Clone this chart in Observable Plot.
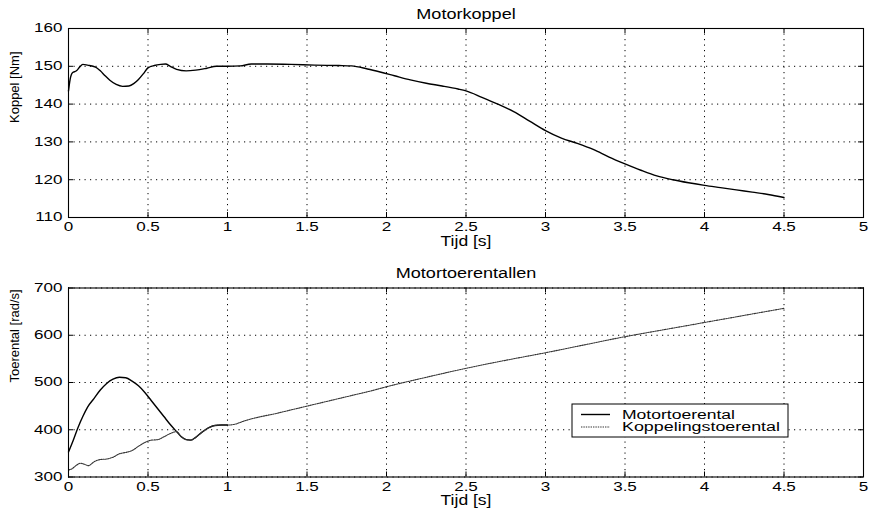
<!DOCTYPE html>
<html><head><meta charset="utf-8">
<script src="https://cdn.jsdelivr.net/npm/d3@7"></script>
<script src="https://cdn.jsdelivr.net/npm/@observablehq/plot@0.6"></script>
<style>
html,body{margin:0;padding:0;background:#fff;}
#chart{width:878px;height:511px;position:relative;overflow:hidden;}
#chart svg{display:block;}
</style></head><body><div id="chart"></div>
<script>
// ---- tick labels ----
const timeTicks = [0, 0.5, 1, 1.5, 2, 2.5, 3, 3.5, 4, 4.5, 5];
const koppelTicks = [110, 120, 130, 140, 150, 160];
const speedTicks = [300, 400, 500, 600, 700];

// ---- Motorkoppel [Nm] ----
const koppelTime = [0, 0.01, 0.025, 0.05, 0.07, 0.09, 0.12, 0.17, 0.2, 0.23, 0.26, 0.3, 0.34, 0.38, 0.41, 0.44, 0.47, 0.5, 0.54, 0.58, 0.61, 0.64, 0.68, 0.74, 0.8, 0.87, 0.93, 1.0, 1.08, 1.15, 1.25, 1.4, 1.55, 1.7, 1.78, 1.88, 1.96, 2.05, 2.15, 2.25, 2.35, 2.45, 2.5, 2.6, 2.7, 2.8, 2.9, 3.0, 3.1, 3.2, 3.3, 3.4, 3.5, 3.6, 3.7, 3.8, 3.9, 4.0, 4.1, 4.2, 4.3, 4.4, 4.5];
const koppelValue = [143.5, 146.5, 148.3, 148.8, 149.8, 150.5, 150.3, 149.8, 148.8, 147.5, 146.3, 145.2, 144.7, 144.8, 145.4, 146.5, 148.0, 149.6, 150.2, 150.5, 150.6, 150.0, 149.2, 148.8, 149.0, 149.5, 150.0, 150.0, 150.1, 150.6, 150.6, 150.5, 150.3, 150.2, 150.1, 149.3, 148.5, 147.5, 146.4, 145.5, 144.8, 144.0, 143.5, 141.8, 140.0, 138.0, 135.5, 133.0, 131.0, 129.6, 128.0, 126.0, 124.2, 122.5, 121.0, 120.0, 119.2, 118.5, 117.9, 117.3, 116.7, 116.1, 115.3];

// ---- Motortoerental [rad/s] (solid part visible until the clutch locks) ----
const motorTime = [0, 0.03, 0.06, 0.09, 0.12, 0.16, 0.2, 0.24, 0.28, 0.32, 0.36, 0.4, 0.44, 0.48, 0.52, 0.56, 0.6, 0.64, 0.68, 0.71, 0.74, 0.77, 0.8, 0.84, 0.88, 0.92, 0.96, 1.0];
const motorSpeed = [353, 378, 405, 428, 448, 466, 484, 498, 507, 511, 510, 503, 493, 479, 462, 445, 428, 411, 396, 385, 379, 378, 384, 395, 404, 409, 410, 410];

// ---- Koppelingstoerental [rad/s] ----
const clutchTime = [0, 0.02, 0.05, 0.075, 0.1, 0.125, 0.16, 0.2, 0.24, 0.28, 0.32, 0.36, 0.4, 0.44, 0.48, 0.52, 0.56, 0.6, 0.64, 0.68, 0.71, 0.74, 0.77, 0.8, 0.84, 0.88, 0.92, 0.96, 1.0, 1.05, 1.1, 1.15, 1.2, 1.3, 1.4, 1.5, 1.6, 1.7, 1.8, 1.9, 2.0, 2.25, 2.5, 2.75, 3.0, 3.25, 3.5, 3.75, 4.0, 4.25, 4.5];
const clutchSpeed = [315, 317, 325, 329, 327, 324, 332, 337, 338, 342, 349, 352, 356, 365, 373, 378, 379, 385, 392, 396, 385, 379, 378, 384, 395, 404, 409, 410, 410, 412, 418, 423, 427, 434, 442, 450, 458, 466, 474, 482, 491, 511, 530, 547, 563, 580, 597, 612, 627, 642, 657];

const seriesNames = ["Motortoerental", "Koppelingstoerental"];
const titles = ["Motorkoppel", "Motortoerentallen"];
const xLabel = "Tijd [s]";
const yLabels = ["Koppel [Nm]", "Toerental [rad/s]"];

const toRows = (ts, vs) => ts.map((t, i) => ({t, v: vs[i]}));
const koppelRows = toRows(koppelTime, koppelValue);
const motorRows = toRows(motorTime, motorSpeed);
const clutchRows = toRows(clutchTime, clutchSpeed);

const W = 878, ML = 68, MR = 15;
const FONT = "'Liberation Sans', Arial, Helvetica, sans-serif";

function panel({height, marginTop, marginBottom, yDomain, yTicks, title, ylabel, lines}) {
  const fw = W - ML - MR, fh = height - marginTop - marginBottom, tl = 5;
  return Plot.plot({
    width: W, height, marginLeft: ML, marginRight: MR, marginTop, marginBottom,
    style: {fontFamily: FONT, fontSize: "12px", color: "#000", background: "#fff", overflow: "visible"},
    x: {domain: [0, 5]},
    y: {domain: yDomain},
    marks: [
      Plot.ruleX(timeTicks, {x: d => d, stroke: "#000", strokeWidth: 1, strokeDasharray: "1.2,4.3"}),
      Plot.ruleY(yTicks, {y: d => d, stroke: "#000", strokeWidth: 1, strokeDasharray: "1.2,4.3"}),
      Plot.ruleX(timeTicks, {x: d => d, stroke: "#000", insetTop: fh - tl}),
      Plot.ruleX(timeTicks, {x: d => d, stroke: "#000", insetBottom: fh - tl}),
      Plot.ruleY(yTicks, {y: d => d, stroke: "#000", insetRight: fw - tl}),
      Plot.ruleY(yTicks, {y: d => d, stroke: "#000", insetLeft: fw - tl}),
      ...lines,
      Plot.frame({stroke: "#000", strokeWidth: 1.1}),
      Plot.axisX({ticks: timeTicks, tickSize: 0, tickPadding: 5, tickFormat: d => String(d), label: null}),
      Plot.axisY({ticks: yTicks, tickSize: 0, tickPadding: 6, tickFormat: d => String(d), label: null}),
      Plot.text([title], {text: d => d, frameAnchor: "top", lineAnchor: "middle", dy: -14, fontSize: 14}),
      Plot.text([xLabel], {text: d => d, frameAnchor: "bottom", lineAnchor: "middle", dy: 24, fontSize: 14}),
      Plot.text([ylabel], {text: d => d, frameAnchor: "left", lineAnchor: "middle", dx: -54, rotate: -90, fontSize: 13})
    ]
  });
}

const topPanel = panel({
  height: 255, marginTop: 28, marginBottom: 38,
  yDomain: [110, 160], yTicks: koppelTicks, title: titles[0], ylabel: yLabels[0],
  lines: [Plot.line(koppelRows, {x: "t", y: "v", stroke: "#000", strokeWidth: 1.4, curve: "monotone-x"})]
});
const bottomPanel = panel({
  height: 256, marginTop: 32.5, marginBottom: 34.5,
  yDomain: [300, 700], yTicks: speedTicks, title: titles[1], ylabel: yLabels[1],
  lines: [
    Plot.line(motorRows, {x: "t", y: "v", stroke: "#000", strokeWidth: 1.4, curve: "monotone-x"}),
    Plot.line(clutchRows, {x: "t", y: "v", stroke: "#333", strokeWidth: 1.1, strokeDasharray: "1.4,1", curve: "monotone-x"})
  ]
});

const chartEl = document.getElementById("chart");
chartEl.appendChild(topPanel);
chartEl.appendChild(bottomPanel);

function stretchText(el, k) {
  const L = el.getComputedTextLength();
  el.setAttribute("textLength", (L * k).toFixed(1));
  el.setAttribute("lengthAdjust", "spacingAndGlyphs");
}
const tickLabelSet = new Set([...timeTicks, ...koppelTicks, ...speedTicks].map(String));
for (const svg of [topPanel, bottomPanel]) {
  svg.querySelectorAll("text").forEach(el => {
    const s = el.textContent;
    if (titles.includes(s)) stretchText(el, 1.29);
    else if (s === xLabel) stretchText(el, 1.25);
    else if (tickLabelSet.has(s)) stretchText(el, 1.42);
  });
}

// legend (inside the lower panel)
const lg = d3.select(bottomPanel).append("g").attr("aria-label", "legend").attr("text-anchor", "start");
lg.append("rect").attr("x", 572).attr("y", 149).attr("width", 216).attr("height", 33)
  .attr("fill", "#fff").attr("stroke", "#000").attr("stroke-width", 1);
const legendRows = [
  {name: seriesNames[0], dash: null, w: 1.4, len: 113, color: "#000"},
  {name: seriesNames[1], dash: "1.4,1", w: 1.1, len: 158, color: "#333"}
];
legendRows.forEach((r, i) => {
  const y = 159.5 + i * 12.5;
  lg.append("line").attr("x1", 581).attr("x2", 610).attr("y1", y).attr("y2", y)
    .attr("stroke", r.color).attr("stroke-width", r.w).attr("stroke-dasharray", r.dash);
  lg.append("text").attr("x", 622).attr("y", y + 4.3).attr("font-size", 12).attr("font-family", FONT)
    .attr("text-anchor", "start")
    .attr("textLength", r.len).attr("lengthAdjust", "spacingAndGlyphs").attr("fill", "#000").text(r.name);
});
</script>
</body></html>
